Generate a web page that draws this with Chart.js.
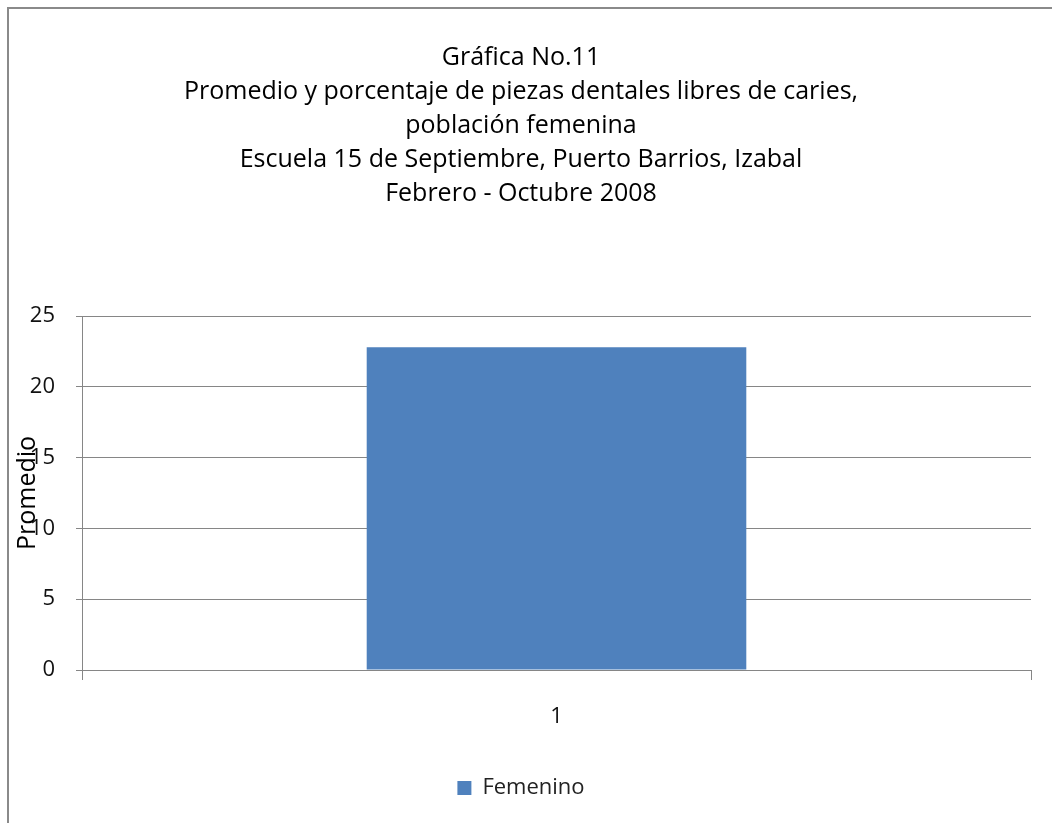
<!DOCTYPE html>
<html>
<head>
<meta charset="utf-8">
<script src="https://cdn.jsdelivr.net/npm/chart.js@4"></script>
<style>
  html, body { margin: 0; padding: 0; background: #fff; }
  #wrap { position: relative; width: 1052px; height: 823px; overflow: hidden; }
  #frame {
    position: absolute; left: 7px; top: 7px; width: 1200px; height: 1000px;
    border-top: 2px solid #8a8a8a; border-left: 2px solid #8a8a8a;
  }
  canvas { position: absolute; left: 0; top: 0; }
</style>
</head>
<body>
<div id="wrap">
  <div id="frame"></div>
  <canvas id="myChart" width="1052" height="823"></canvas>
</div>
<script>
const categories = ["1"];
const seriesName = "Femenino";
const femenino = [22.8];
const titleLines = [
  "Gráfica No.11",
  "Promedio y porcentaje de piezas dentales libres de caries,",
  "población femenina",
  "Escuela 15 de Septiembre, Puerto Barrios, Izabal",
  "Febrero - Octubre 2008"
];
const yTitle = "Promedio";

const FONT = "Open Sans";
const gridColor = "#868686";

const chart = new Chart("myChart", {
  type: "bar",
  data: {
    labels: categories,
    datasets: [
      {
        label: seriesName,
        data: femenino,
        backgroundColor: "#4f81bd",
        borderWidth: 0,
        barPercentage: 0.4,
        categoryPercentage: 1.0,
      },
    ],
  },
  options: {
    responsive: false,
    animation: false,
    layout: { padding: { left: 11, right: 21, top: 0, bottom: 14 } },
    plugins: {
      title: {
        display: true,
        text: titleLines,
        color: "#000",
        font: { family: FONT, size: 25, weight: "normal", lineHeight: "34px" },
        padding: { top: 41, bottom: 105 },
      },
      legend: {
        position: "bottom",
        labels: {
          color: "#222",
          font: { family: FONT, size: 22 },
          boxWidth: 14,
          boxHeight: 14,
          padding: 10,
        },
      },
      tooltip: { enabled: false },
    },
    scales: {
      x: {
        grid: {
          drawOnChartArea: false,
          color: gridColor,
          tickLength: 10,
        },
        border: { color: gridColor, width: 1 },
        ticks: {
          color: "#111",
          font: { family: FONT, size: 22 },
          padding: 24,
        },
        afterFit: (scale) => {
          scale.height = 97;
        },
      },
      y: {
        min: 0,
        max: 25,
        ticks: {
          stepSize: 5,
          color: "#111",
          font: { family: FONT, size: 22 },
          padding: 21,
        },
        grid: { color: gridColor, tickLength: 6 },
        border: { color: gridColor, width: 1 },
        title: {
          display: true,
          text: yTitle,
          color: "#000",
          font: { family: FONT, size: 25 },
          padding: { top: 2, bottom: 4 },
        },
        afterFit: (scale) => {
          scale.width = 71;
        },
      },
    },
  },
});
</script>
</body>
</html>
